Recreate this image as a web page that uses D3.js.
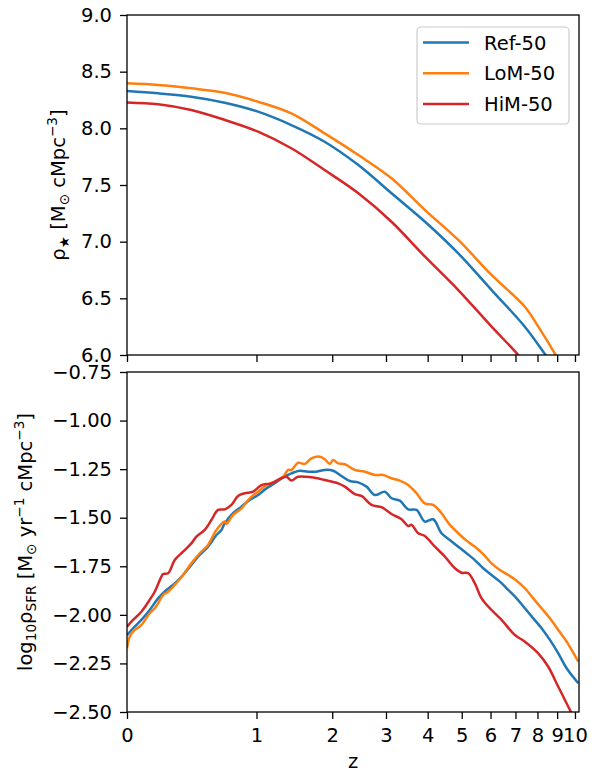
<!DOCTYPE html>
<html><head><meta charset="utf-8">
<script src="https://cdn.jsdelivr.net/npm/d3@7"></script>
<style>body{margin:0;background:#fff} svg{display:block} text{font-family:"DejaVu Sans",sans-serif;fill:#000}</style>
</head><body><svg id="c" width="595" height="772"></svg>
<script>
// ---------- data ----------
const seriesNames = ["Ref-50", "LoM-50", "HiM-50"];
const seriesColors = ["#1f77b4", "#ff7f0e", "#d62728"];
const zTicks = [0,1,2,3,4,5,6,7,8,9,10];
const topYTicks = [6.0,6.5,7.0,7.5,8.0,8.5,9.0];
const botYTicks = [-2.5,-2.25,-2.0,-1.75,-1.5,-1.25,-1.0,-0.75];

// stellar mass density (top panel)
const topZ_ref = [0,0.181,0.41,0.687,1.016,1.41,1.88,2.45,3.12,3.93,4.89,6.04,7.41,8.40,8.9];
const topV_ref = [8.329,8.309,8.279,8.226,8.147,8.029,7.882,7.676,7.427,7.176,6.897,6.573,6.250,6.0,5.88];
const topZ_lom = [0,0.181,0.41,0.687,1.016,1.41,1.88,2.45,3.12,3.93,4.89,6.04,7.41,8.04,8.92,9.4];
const topV_lom = [8.397,8.382,8.353,8.314,8.235,8.132,7.956,7.765,7.559,7.279,7.015,6.706,6.426,6.25,6.0,5.86];
const topZ_him = [0,0.181,0.41,0.688,1.016,1.41,1.88,2.45,3.12,3.93,4.89,6.04,7.12,7.6];
const topV_him = [8.229,8.212,8.162,8.074,7.971,7.824,7.632,7.427,7.176,6.867,6.573,6.25,6.0,5.88];

// star formation rate density (bottom panel)
const botZ_ref = [0,0.033,0.080,0.129,0.181,0.235,0.291,0.350,0.411,0.476,0.543,0.614,0.658,0.687,0.764,0.845,0.929,1.017,1.109,1.205,1.306,1.411,1.521,1.636,1.757,1.883,2.014,2.152,2.296,2.446,2.604,2.768,2.975,3.120,3.308,3.504,3.710,3.925,4.150,4.385,4.631,4.888,5.156,5.437,5.731,6.038,6.360,6.696,7.047,7.414,7.799,8.200,8.620,9.060,9.520,10.198];
const botV_ref = [-2.104,-2.069,-2.026,-1.975,-1.915,-1.872,-1.838,-1.795,-1.743,-1.692,-1.649,-1.589,-1.563,-1.529,-1.477,-1.443,-1.409,-1.383,-1.349,-1.323,-1.292,-1.272,-1.258,-1.263,-1.263,-1.254,-1.258,-1.285,-1.311,-1.318,-1.340,-1.383,-1.366,-1.400,-1.412,-1.457,-1.460,-1.520,-1.508,-1.580,-1.615,-1.649,-1.683,-1.718,-1.760,-1.795,-1.829,-1.872,-1.915,-1.966,-2.018,-2.069,-2.129,-2.198,-2.275,-2.352];
const botZ_lom = [0,0.015,0.033,0.080,0.129,0.160,0.181,0.213,0.246,0.291,0.350,0.411,0.476,0.543,0.614,0.687,0.702,0.764,0.845,0.929,1.017,1.109,1.205,1.306,1.370,1.411,1.499,1.590,1.684,1.807,1.883,1.961,2.014,2.096,2.209,2.385,2.572,2.768,2.940,3.120,3.308,3.504,3.710,3.925,4.150,4.385,4.631,4.888,5.156,5.437,5.731,6.038,6.360,6.696,7.047,7.414,7.799,8.200,8.620,9.060,9.520,10.198];
const botV_lom = [-2.172,-2.112,-2.086,-2.052,-1.992,-1.966,-1.941,-1.898,-1.881,-1.846,-1.795,-1.735,-1.683,-1.640,-1.563,-1.520,-1.532,-1.486,-1.452,-1.400,-1.366,-1.332,-1.314,-1.289,-1.254,-1.254,-1.217,-1.223,-1.194,-1.186,-1.199,-1.223,-1.203,-1.220,-1.225,-1.254,-1.263,-1.280,-1.280,-1.297,-1.309,-1.332,-1.374,-1.426,-1.434,-1.477,-1.537,-1.580,-1.618,-1.649,-1.687,-1.735,-1.769,-1.795,-1.824,-1.863,-1.915,-1.966,-2.018,-2.078,-2.138,-2.241];
const botZ_him = [0,0.033,0.080,0.129,0.160,0.202,0.213,0.246,0.291,0.350,0.411,0.450,0.516,0.571,0.628,0.687,0.749,0.812,0.878,0.964,1.054,1.167,1.286,1.349,1.411,1.499,1.684,1.883,2.096,2.209,2.385,2.509,2.701,2.905,3.120,3.347,3.504,3.586,3.752,3.925,4.196,4.482,4.784,4.994,5.212,5.437,5.672,6.038,6.426,6.976,7.414,8.037,8.534,9.060,9.614,10.0];
const botV_him = [-2.061,-2.026,-1.984,-1.923,-1.881,-1.803,-1.790,-1.786,-1.718,-1.675,-1.632,-1.597,-1.563,-1.512,-1.460,-1.457,-1.434,-1.388,-1.374,-1.366,-1.332,-1.323,-1.297,-1.289,-1.309,-1.289,-1.292,-1.306,-1.323,-1.340,-1.378,-1.388,-1.434,-1.446,-1.481,-1.508,-1.543,-1.537,-1.580,-1.594,-1.649,-1.700,-1.760,-1.783,-1.786,-1.838,-1.915,-1.975,-2.026,-2.104,-2.138,-2.198,-2.267,-2.370,-2.473,-2.541];

const topSeries = [[topZ_ref, topV_ref],[topZ_lom, topV_lom],[topZ_him, topV_him]];
const botSeries = [[botZ_ref, botV_ref],[botZ_lom, botV_lom],[botZ_him, botV_him]];

// ---------- layout ----------
const svg = d3.select("#c");
const L = 127, R = 579;
const FS = 19.5;
const x = d3.scaleLog().domain([1, 11.24]).range([L, R]);
const panels = [
  {top:15, bot:355, y:d3.scaleLinear().domain([6,9]).range([355,15]), ticks:topYTicks, fmt:d3.format(".1f"), series:topSeries, labels:false},
  {top:372, bot:712, y:d3.scaleLinear().domain([-2.5,-0.75]).range([712,372]), ticks:botYTicks, fmt:d=>d3.format(".2f")(d).replace("-","\u2212"), series:botSeries, labels:true}
];

panels.forEach((p,i)=>{
  const g = svg.append("g");
  const cid = "clip"+i;
  svg.append("clipPath").attr("id",cid).append("rect").attr("x",L).attr("y",p.top).attr("width",R-L).attr("height",p.bot-p.top);
  const line = d3.line().x(d=>x(1+d[0])).y(d=>p.y(d[1])).curve(d3.curveCatmullRom.alpha(0.5));
  p.series.forEach((s,k)=>{
    const pts = s[0].map((z,j)=>[z, s[1][j]]);
    g.append("path").attr("d", line(pts)).attr("fill","none")
      .attr("stroke", seriesColors[k]).attr("stroke-width",2.5)
      .attr("stroke-linejoin","round").attr("stroke-linecap","butt")
      .attr("clip-path","url(#"+cid+")");
  });
  // y axis
  const ya = g.append("g").attr("transform","translate("+L+",0)")
    .call(d3.axisLeft(p.y).tickValues(p.ticks).tickSize(7).tickPadding(8).tickFormat(p.fmt));
  ya.select(".domain").remove();
  ya.selectAll("line").attr("stroke","#000").attr("stroke-width",1.3);
  ya.selectAll("text").attr("font-size",FS).attr("font-family","DejaVu Sans").attr("fill","#000");
  // x axis
  const xa = g.append("g").attr("transform","translate(0,"+p.bot+")")
    .call(d3.axisBottom(x).tickValues(zTicks.map(z=>z+1)).tickSize(7).tickPadding(9)
      .tickFormat(d=> p.labels ? String(Math.round(d-1)) : ""));
  xa.select(".domain").remove();
  xa.selectAll("line").attr("stroke","#000").attr("stroke-width",1.3);
  xa.selectAll("text").attr("font-size",FS).attr("font-family","DejaVu Sans").attr("fill","#000");
  // frame
  g.append("rect").attr("x",L).attr("y",p.top).attr("width",R-L).attr("height",p.bot-p.top)
    .attr("fill","none").attr("stroke","#000").attr("stroke-width",1.3);
});

// y labels
function label(tx, ty, parts){
  const t = svg.append("text").attr("transform","translate("+tx+","+ty+") rotate(-90)")
    .attr("text-anchor","middle").attr("font-size",FS);
  parts.forEach(pt=>{
    const ts = t.append("tspan").text(pt[0]);
    if (pt[1]==="sub") ts.attr("font-size",FS*0.7).attr("baseline-shift",-0.2*FS);
    if (pt[1]==="sup") ts.attr("font-size",FS*0.7).attr("baseline-shift",0.4*FS);
  });
}
label(65, 185, [["ρ"],["★","sub"],[" [M"],["⊙","sub"],[" cMpc"],["\u22123","sup"],["]"]]);
label(32, 542, [["log"],["10","sub"],["ρ"],["SFR","sub"],[" [M"],["⊙","sub"],[" yr"],["\u22121","sup"],[" cMpc"],["\u22123","sup"],["]"]]);

// x label
svg.append("text").attr("x",(L+R)/2).attr("y",768).attr("text-anchor","middle").attr("font-size",FS).text("z");

// legend
const lg = svg.append("g");
lg.append("rect").attr("x",417).attr("y",27).attr("width",152).attr("height",97).attr("rx",4)
  .attr("fill","#fff").attr("fill-opacity",0.8).attr("stroke","#cccccc").attr("stroke-width",1.2);
seriesNames.forEach((n,k)=>{
  const yy = 42.5 + k*30.7;
  lg.append("line").attr("x1",423).attr("x2",469).attr("y1",yy).attr("y2",yy)
    .attr("stroke",seriesColors[k]).attr("stroke-width",2.5);
  lg.append("text").attr("x",484).attr("y",yy+7).attr("font-size",FS).text(n);
});
</script></body></html>
